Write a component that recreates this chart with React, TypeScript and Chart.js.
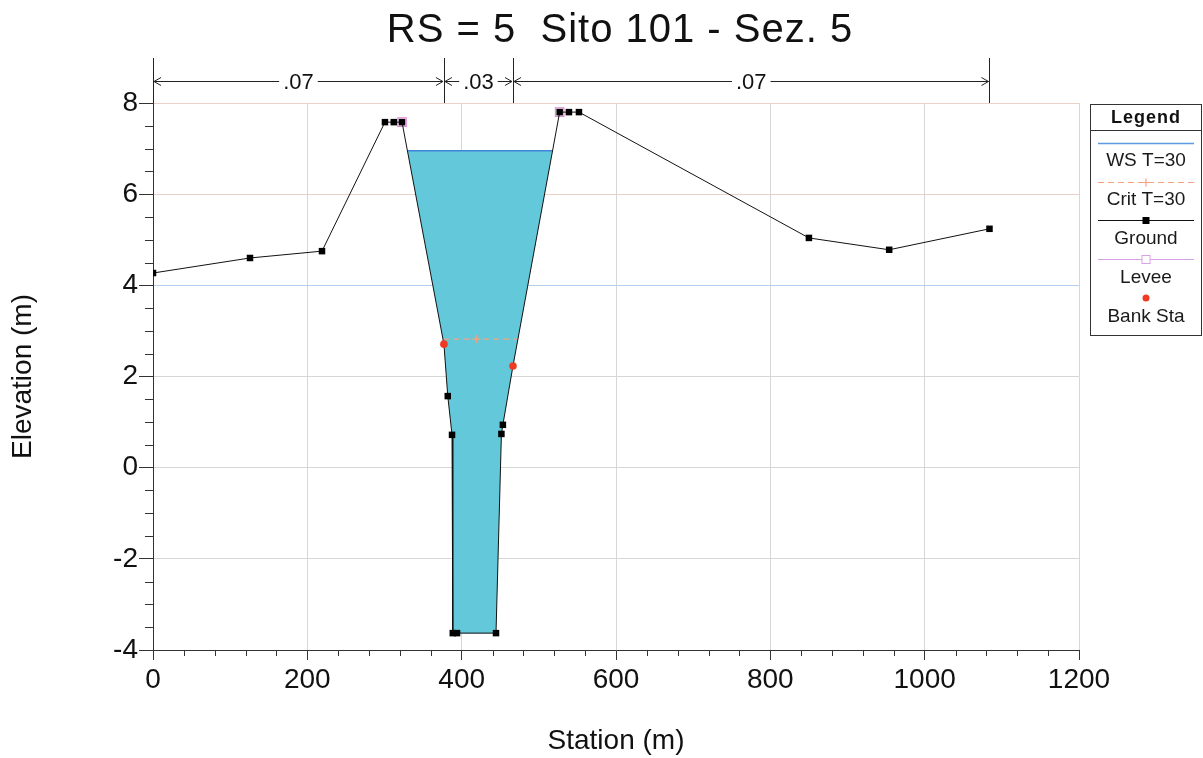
import React, { useEffect, useRef } from 'react';
import { Chart, registerables } from 'chart.js';

Chart.register(...registerables);

// ---- Text ----
const TITLE = 'RS = 5  Sito 101 - Sez. 5';
const X_TITLE = 'Station (m)';
const Y_TITLE = 'Elevation (m)';
const legendTitle = 'Legend';
const legendLabels = ['WS T=30', 'Crit T=30', 'Ground', 'Levee', 'Bank Sta'];

// ---- Data ----
const groundStation = [0, 125.7, 219, 300.6, 312, 322.7, 377, 382, 387.5, 388.5, 394, 444.5, 451.5, 453.4, 466.5, 527, 539, 552, 850, 954, 1084];
const groundElev = [4.27, 4.6, 4.75, 7.58, 7.58, 7.58, 2.71, 1.57, 0.72, -3.63, -3.63, -3.63, 0.74, 0.94, 2.23, 7.8, 7.8, 7.8, 5.04, 4.78, 5.24];
const bankStation = [377, 466.5];
const bankElev = [2.71, 2.23];
const leveeStation = [322.7, 527];
const leveeElev = [7.58, 7.8];
const wsElev = 6.95;
const critElev = 2.82;
const critMarkStation = 419;
const nBreaks = [0, 377, 466.5, 1084];
const nValues = ['.07', '.03', '.07'];

const FONT = '"Liberation Sans", Arial, Helvetica, sans-serif';

// water-surface intersections with the ground, derived from the data
function intersections(elev: number) {
  let low = 0;
  for (let i = 1; i < groundElev.length; i++) if (groundElev[i] < groundElev[low]) low = i;
  let li = low;
  while (li > 0 && groundElev[li - 1] < elev) li--;
  let ri = low;
  while (ri < groundElev.length - 1 && groundElev[ri + 1] < elev) ri++;
  const lerp = (a: number, b: number) => {
    const t = (elev - groundElev[a]) / (groundElev[b] - groundElev[a]);
    return groundStation[a] + t * (groundStation[b] - groundStation[a]);
  };
  return { left: lerp(li - 1, li), right: lerp(ri + 1, ri), li, ri };
}

export default function App() {
  const ref = useRef<HTMLCanvasElement | null>(null);

  useEffect(() => {
    document.body.style.margin = '0';
    const canvas = ref.current;
    if (!canvas) return;

    const ws = intersections(wsElev);
    const crit = intersections(critElev);

    const polygon: { x: number; y: number }[] = [{ x: ws.left, y: wsElev }];
    for (let i = ws.li; i <= ws.ri; i++) polygon.push({ x: groundStation[i], y: groundElev[i] });
    polygon.push({ x: ws.right, y: wsElev });

    const ground = groundStation.map((s, i) => ({ x: s, y: groundElev[i] }));
    const groundRadius = groundStation.map((s) => (bankStation.includes(s) ? 0 : 4.6));

    const overlay = {
      id: 'overlay',
      afterDraw(chart: any) {
        const { ctx, chartArea: a, scales } = chart;
        const xs = scales.x;
        const ys = scales.y;
        ctx.save();
        // minor ticks
        ctx.strokeStyle = '#333';
        ctx.lineWidth = 1;
        ctx.beginPath();
        for (let v = -4; v <= 8; v += 0.5) {
          if (v % 2 === 0) continue;
          const py = Math.round(ys.getPixelForValue(v)) + 0.5;
          ctx.moveTo(a.left - 8, py);
          ctx.lineTo(a.left, py);
        }
        for (let v = 0; v <= 1200; v += 40) {
          if (v % 200 === 0) continue;
          const px = Math.round(xs.getPixelForValue(v)) + 0.5;
          ctx.moveTo(px, a.bottom);
          ctx.lineTo(px, a.bottom + 6);
        }
        ctx.stroke();

        // title
        ctx.fillStyle = '#111';
        ctx.textAlign = 'center';
        ctx.textBaseline = 'middle';
        ctx.font = `40px ${FONT}`;
        (ctx as any).letterSpacing = '1px';
        ctx.fillText(TITLE, (a.left + a.right) / 2 + 4, 31);
        (ctx as any).letterSpacing = '0px';

        // Manning's n bar
        const barY = 81.5;
        ctx.strokeStyle = '#222';
        ctx.beginPath();
        nBreaks.forEach((s) => {
          const px = Math.round(xs.getPixelForValue(s)) + 0.5;
          ctx.moveTo(px, 58);
          ctx.lineTo(px, a.top);
        });
        ctx.stroke();
        ctx.font = `22px ${FONT}`;
        for (let i = 0; i < nValues.length; i++) {
          const x1 = xs.getPixelForValue(nBreaks[i]) + 1;
          const x2 = xs.getPixelForValue(nBreaks[i + 1]) - 1;
          const mid = (x1 + x2) / 2;
          const w = ctx.measureText(nValues[i]).width;
          ctx.beginPath();
          ctx.moveTo(x1, barY);
          ctx.lineTo(mid - w / 2 - 4, barY);
          ctx.moveTo(mid + w / 2 + 4, barY);
          ctx.lineTo(x2, barY);
          ctx.moveTo(x1 + 7, barY - 4);
          ctx.lineTo(x1, barY);
          ctx.lineTo(x1 + 7, barY + 4);
          ctx.moveTo(x2 - 7, barY - 4);
          ctx.lineTo(x2, barY);
          ctx.lineTo(x2 - 7, barY + 4);
          ctx.stroke();
          ctx.fillText(nValues[i], mid, barY + 1);
        }

        // legend
        const L = 1090.5, T = 104.5, R = 1201.5, B = 335.5;
        const cx = (L + R) / 2;
        ctx.strokeStyle = '#333';
        ctx.lineWidth = 1;
        ctx.strokeRect(L, T, R - L, B - T);
        ctx.beginPath();
        ctx.moveTo(L, 130.5);
        ctx.lineTo(R, 130.5);
        ctx.stroke();
        ctx.fillStyle = '#111';
        ctx.font = `bold 18px ${FONT}`;
        (ctx as any).letterSpacing = '1px';
        ctx.fillText(legendTitle, cx, 118);
        (ctx as any).letterSpacing = '0px';
        const lx1 = 1098, lx2 = 1194;
        // WS
        ctx.strokeStyle = '#5b9be0';
        ctx.lineWidth = 1.5;
        ctx.beginPath(); ctx.moveTo(lx1, 143.5); ctx.lineTo(lx2, 143.5); ctx.stroke();
        // Crit
        ctx.strokeStyle = '#f4a37f';
        ctx.lineWidth = 1.2;
        ctx.setLineDash([6, 4]);
        ctx.beginPath(); ctx.moveTo(lx1, 182.5); ctx.lineTo(lx2, 182.5); ctx.stroke();
        ctx.setLineDash([]);
        ctx.beginPath(); ctx.moveTo(cx - 4, 182.5); ctx.lineTo(cx + 4, 182.5); ctx.moveTo(cx, 178.5); ctx.lineTo(cx, 186.5); ctx.stroke();
        // Ground
        ctx.strokeStyle = '#111';
        ctx.lineWidth = 1;
        ctx.beginPath(); ctx.moveTo(lx1, 220.5); ctx.lineTo(lx2, 220.5); ctx.stroke();
        ctx.fillStyle = '#000';
        ctx.fillRect(cx - 3.5, 217, 7, 7);
        // Levee
        ctx.strokeStyle = '#d8a2e6';
        ctx.beginPath(); ctx.moveTo(lx1, 259.5); ctx.lineTo(lx2, 259.5); ctx.stroke();
        ctx.fillStyle = '#fff';
        ctx.fillRect(cx - 4, 255.5, 8, 8);
        ctx.strokeRect(cx - 4, 255.5, 8, 8);
        // Bank Sta
        ctx.fillStyle = '#f03a22';
        ctx.beginPath(); ctx.arc(cx, 298, 3.5, 0, Math.PI * 2); ctx.fill();
        // labels
        ctx.fillStyle = '#1a1a1a';
        ctx.font = `19px ${FONT}`;
        const ly = [161, 200, 239, 278, 317];
        legendLabels.forEach((t, i) => ctx.fillText(t, cx, ly[i]));
        ctx.restore();
      },
    };

    const chart = new Chart(canvas, {
      type: 'scatter',
      data: {
        datasets: [
          {
            label: 'Bank Sta',
            data: bankStation.map((s, i) => ({ x: s, y: bankElev[i] })),
            pointStyle: 'circle',
            pointRadius: 3.8,
            backgroundColor: '#f03a22',
            borderColor: '#f03a22',
            borderWidth: 0,
            showLine: false,
          },
          {
            label: 'Ground',
            data: ground,
            showLine: true,
            borderColor: '#111',
            borderWidth: 1,
            pointStyle: 'rect',
            pointRadius: groundRadius,
            backgroundColor: '#000',
            pointBorderWidth: 0,
            fill: false,
          },
          {
            label: 'Levee',
            data: leveeStation.map((s, i) => ({ x: s, y: leveeElev[i] })),
            showLine: false,
            pointStyle: 'rect',
            pointRadius: 6,
            backgroundColor: 'rgba(0,0,0,0)',
            borderColor: '#e08ad8',
            borderWidth: 1.2,
          },
          {
            label: 'Crit T=30',
            data: [
              { x: crit.left, y: critElev },
              { x: critMarkStation, y: critElev },
              { x: crit.right, y: critElev },
            ],
            showLine: true,
            borderColor: '#f4a37f',
            borderWidth: 1.2,
            borderDash: [6, 4],
            pointStyle: 'cross',
            pointRadius: [0, 4, 0],
            pointBorderColor: '#f4a37f',
            fill: false,
          },
          {
            label: 'WS T=30',
            data: [
              { x: ws.left, y: wsElev },
              { x: ws.right, y: wsElev },
            ],
            showLine: true,
            borderColor: '#3f86d8',
            borderWidth: 1.5,
            pointRadius: 0,
            fill: false,
          },
          {
            label: 'WS fill',
            data: polygon,
            showLine: true,
            borderWidth: 0,
            borderColor: 'rgba(0,0,0,0)',
            backgroundColor: '#63c8d9',
            pointRadius: 0,
            fill: 'shape',
          },
        ],
      },
      options: {
        animation: false,
        responsive: false,
        devicePixelRatio: 1,
        events: [],
        layout: { padding: { top: 103, right: 124, left: 0, bottom: 0 } },
        plugins: {
          legend: { display: false },
          tooltip: { enabled: false },
          title: { display: false },
        },
        scales: {
          x: {
            type: 'linear',
            min: 0,
            max: 1200,
            ticks: {
              stepSize: 200,
              color: '#111',
              font: { family: FONT, size: 28 },
              padding: 3,
              maxRotation: 0,
              callback: (v: any) => String(v),
            },
            grid: { color: '#d6d6d6', tickColor: '#333', tickLength: 10, lineWidth: 1 },
            border: { color: '#333', width: 1 },
            title: { display: true, text: X_TITLE, color: '#111', font: { family: FONT, size: 28 }, padding: { top: 4, bottom: 0 } },
            afterFit: (s: any) => { s.height = 108; },
          },
          y: {
            type: 'linear',
            min: -4,
            max: 8,
            ticks: { stepSize: 2, color: '#111', font: { family: FONT, size: 28 }, padding: 1, callback: (v: any) => String(v) },
            grid: {
              color: (c: any) => {
                const v = c.tick ? c.tick.value : null;
                if (v === 4) return '#b4cfee';
                if (v === 6 || v === 8) return '#e9d0c8';
                return '#d6d6d6';
              },
              tickColor: '#333',
              tickLength: 14,
              lineWidth: 1,
            },
            border: { color: '#333', width: 1 },
            title: { display: true, text: Y_TITLE, color: '#111', font: { family: FONT, size: 28 }, padding: { top: 6, bottom: 4 } },
            afterFit: (s: any) => { s.width = 153; },
          },
        },
      },
      plugins: [overlay],
    } as any);

    return () => chart.destroy();
  }, []);

  return <canvas ref={ref} width={1203} height={758} style={{ display: 'block' }} />;
}
